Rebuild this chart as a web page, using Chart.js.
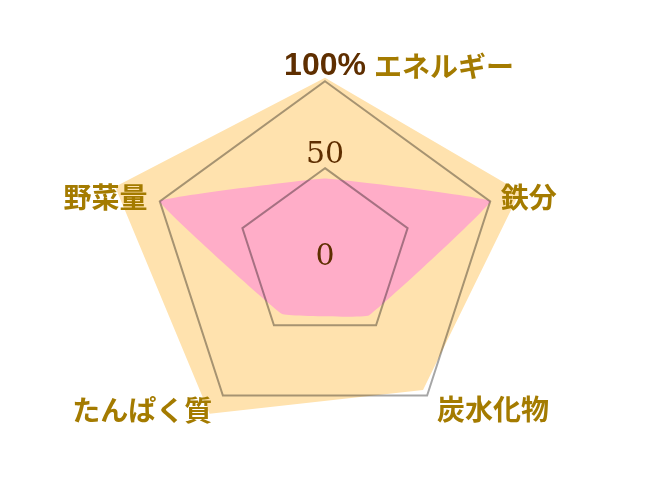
<!DOCTYPE html>
<html>
<head>
<meta charset="utf-8">
<script src="https://cdn.jsdelivr.net/npm/chart.js@4"></script>
<style>
html,body{margin:0;padding:0;background:#ffffff;}
#wrap{width:652px;height:494px;position:relative;}
</style>
</head>
<body>
<div id="wrap"><canvas id="c"></canvas></div>
<script>
// ---- data ----
const categories = ['エネルギー', '鉄分', '炭水化物', 'たんぱく質', '野菜量'];
const intakeValues = [44, 100, 43, 42, 100];
const backdropValues = [102, 118, 96, 113, 127];
const gridValues = [50, 100];
const tickValues = [0, 50, 100];
const tickLabels = ['0', '50', '100%'];

// ---- styling / layout options ----
const SCALE_MIN = 0;
const SCALE_MAX = 100;
const NOMINAL_RADIUS = 174;           // px, used to turn label lift into scale units
const tickLiftPx = [-2, 13, 15];      // how far each tick label sits above its value
const labelPadding = [0, -4, 2, 3, -2];
const topLabelSpacer = '\u3000'.repeat(8) + '\u2002';
const displayLabels = categories.map((c, i) => i === 0 ? topLabelSpacer + c : c);

const tickColor = '#5e2e00';
const labelColor = '#a47b00';

new Chart(document.getElementById('c'), {
  type: 'radar',
  data: {
    labels: displayLabels,
    datasets: [
      {
        data: intakeValues,
        backgroundColor: '#ffadc8',
        borderWidth: 0,
        pointRadius: 0,
        pointHoverRadius: 0,
        fill: true,
        tension: 0.06
      },
      {
        data: backdropValues,
        backgroundColor: '#ffe2ae',
        borderWidth: 0,
        pointRadius: 0,
        pointHoverRadius: 0,
        fill: true,
        tension: 0
      }
    ]
  },
  options: {
    responsive: true,
    maintainAspectRatio: false,
    animation: false,
    layout: { padding: { left: 20, right: 22, top: 66, bottom: 50 } },
    plugins: { legend: { display: false }, tooltip: { enabled: false } },
    scales: {
      r: {
        min: SCALE_MIN,
        max: SCALE_MAX,
        afterBuildTicks: (scale) => {
          const t = [{ value: SCALE_MIN, _lbl: '' }];
          gridValues.forEach(v => t.push({ value: v, _lbl: '', _grid: true }));
          tickValues.forEach((v, i) => t.push({
            value: v + tickLiftPx[i] / NOMINAL_RADIUS * (SCALE_MAX - SCALE_MIN),
            _lbl: tickLabels[i]
          }));
          scale.ticks = t;
        },
        angleLines: { display: false },
        grid: {
          z: 1,
          color: 'rgba(0,0,0,0.35)',
          lineWidth: (ctx) => (ctx.tick && ctx.tick._grid) ? 2 : 0
        },
        ticks: {
          z: 2,
          display: true,
          showLabelBackdrop: false,
          backdropPadding: 0,
          color: tickColor,
          callback: (value, index, ticks) => ticks[index]._lbl,
          font: (ctx) => {
            if (ctx.tick && ctx.tick._lbl === '100%') {
              return { family: "'Liberation Sans', sans-serif", size: 32, weight: 'bold' };
            }
            return { family: "'DejaVu Serif', serif", size: 30, weight: 'normal' };
          }
        },
        pointLabels: {
          display: true,
          color: labelColor,
          padding: (ctx) => labelPadding[ctx.index],
          font: {
            family: "'Noto Sans CJK JP', sans-serif",
            size: 28,
            weight: 'bold',
            lineHeight: 0.01
          }
        }
      }
    }
  }
});
</script>
</body>
</html>
